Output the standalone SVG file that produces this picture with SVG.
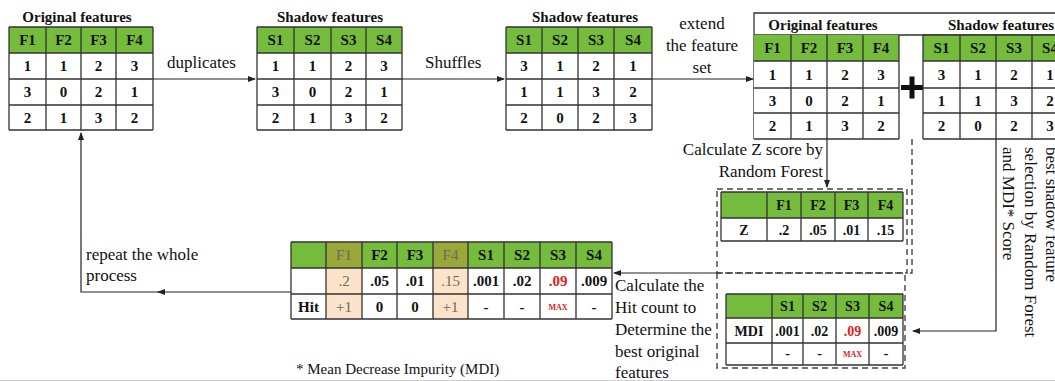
<svg xmlns="http://www.w3.org/2000/svg" width="1055" height="381" viewBox="0 0 1055 381">
<style>
.bg{fill:#ffffff}
.gr{fill:#76bc3c}
.ol{fill:#9aa83a}
.pe{fill:#fce3ca}
.wh{fill:#ffffff}
.grid{fill:none;stroke:#333;stroke-width:1.3}
.c{font-family:"Liberation Serif","Times New Roman",serif;font-weight:bold;font-size:15px;text-anchor:middle;fill:#111}
.cs{font-family:"Liberation Serif","Times New Roman",serif;font-weight:bold;font-size:14px;text-anchor:middle;fill:#111}
.dim{font-family:"Liberation Serif","Times New Roman",serif;font-size:15px;text-anchor:middle;fill:#6a6a5a}
.red{fill:#e02020}
.max{font-family:"Liberation Serif","Times New Roman",serif;font-weight:bold;font-size:8px;text-anchor:middle;fill:#e02020}
.ttl{font-family:"Liberation Serif","Times New Roman",serif;font-weight:bold;font-size:15px;text-anchor:middle;fill:#111}
.lbl{font-family:"Liberation Serif","Times New Roman",serif;font-size:17px;fill:#111}
.foot{font-family:"Liberation Serif","Times New Roman",serif;font-size:15px;fill:#111}
.conn{fill:none;stroke:#222;stroke-width:1.2}
.dash{fill:none;stroke:#444;stroke-width:1.4;stroke-dasharray:6,4}
</style>
<defs>
<marker id="ah" markerUnits="userSpaceOnUse" markerWidth="8" markerHeight="6" refX="7" refY="3" orient="auto">
<path d="M0,0 L8,3 L0,6 z" fill="#222"/>
</marker>
</defs>
<rect class="bg" x="0" y="0" width="1055" height="381"/>

<g id="original-features">
<text class="ttl" x="77" y="22">Original features</text>
<rect class="gr" x="9" y="27" width="144" height="26"/>
<rect class="wh" x="9" y="53" width="144" height="77"/>
<path class="grid" d="M9,27H153M9,53H153M9,79H153M9,105H153M9,130H153M9,27V130M46,27V130M81,27V130M116,27V130M153,27V130"/>
<text class="c" x="27.5" y="45">F1</text><text class="c" x="63.5" y="45">F2</text><text class="c" x="98.5" y="45">F3</text><text class="c" x="134.5" y="45">F4</text>
<text class="c" x="27.5" y="71">1</text><text class="c" x="63.5" y="71">1</text><text class="c" x="98.5" y="71">2</text><text class="c" x="134.5" y="71">3</text>
<text class="c" x="27.5" y="97">3</text><text class="c" x="63.5" y="97">0</text><text class="c" x="98.5" y="97">2</text><text class="c" x="134.5" y="97">1</text>
<text class="c" x="27.5" y="122.5">2</text><text class="c" x="63.5" y="122.5">1</text><text class="c" x="98.5" y="122.5">3</text><text class="c" x="134.5" y="122.5">2</text>
</g>

<g id="shadow-features">
<text class="ttl" x="330" y="22">Shadow features</text>
<rect class="gr" x="257" y="27" width="145" height="26"/>
<rect class="wh" x="257" y="53" width="145" height="77"/>
<path class="grid" d="M257,27H402M257,53H402M257,79H402M257,105H402M257,130H402M257,27V130M294,27V130M331,27V130M366,27V130M402,27V130"/>
<text class="c" x="275.5" y="45">S1</text><text class="c" x="312.5" y="45">S2</text><text class="c" x="348.5" y="45">S3</text><text class="c" x="384" y="45">S4</text>
<text class="c" x="275.5" y="71">1</text><text class="c" x="312.5" y="71">1</text><text class="c" x="348.5" y="71">2</text><text class="c" x="384" y="71">3</text>
<text class="c" x="275.5" y="97">3</text><text class="c" x="312.5" y="97">0</text><text class="c" x="348.5" y="97">2</text><text class="c" x="384" y="97">1</text>
<text class="c" x="275.5" y="122.5">2</text><text class="c" x="312.5" y="122.5">1</text><text class="c" x="348.5" y="122.5">3</text><text class="c" x="384" y="122.5">2</text>
</g>

<g id="shuffled-shadow">
<text class="ttl" x="585" y="22">Shadow features</text>
<rect class="gr" x="506" y="27" width="146" height="26"/>
<rect class="wh" x="506" y="53" width="146" height="77"/>
<path class="grid" d="M506,27H652M506,53H652M506,79H652M506,105H652M506,130H652M506,27V130M542,27V130M578,27V130M614,27V130M652,27V130"/>
<text class="c" x="524" y="45">S1</text><text class="c" x="560" y="45">S2</text><text class="c" x="596" y="45">S3</text><text class="c" x="633" y="45">S4</text>
<text class="c" x="524" y="71">3</text><text class="c" x="560" y="71">1</text><text class="c" x="596" y="71">2</text><text class="c" x="633" y="71">1</text>
<text class="c" x="524" y="97">1</text><text class="c" x="560" y="97">1</text><text class="c" x="596" y="97">3</text><text class="c" x="633" y="97">2</text>
<text class="c" x="524" y="122.5">2</text><text class="c" x="560" y="122.5">0</text><text class="c" x="596" y="122.5">2</text><text class="c" x="633" y="122.5">3</text>
</g>

<g id="extended-set">
<path class="grid" d="M754,139V13H1062M754,35H1062"/>
<text class="ttl" x="823" y="30">Original features</text>
<text class="ttl" x="948" y="30" style="text-anchor:start">Shadow features</text>
<rect class="gr" x="754" y="35" width="145" height="26"/>
<rect class="wh" x="754" y="61" width="145" height="78"/>
<path class="grid" d="M754,61H899M754,88H899M754,113H899M754,139H899M791,35V139M827,35V139M863,35V139M899,35V139"/>
<text class="c" x="772.5" y="53">F1</text><text class="c" x="809" y="53">F2</text><text class="c" x="845" y="53">F3</text><text class="c" x="881" y="53">F4</text>
<text class="c" x="772.5" y="79.5">1</text><text class="c" x="809" y="79.5">1</text><text class="c" x="845" y="79.5">2</text><text class="c" x="881" y="79.5">3</text>
<text class="c" x="772.5" y="105.5">3</text><text class="c" x="809" y="105.5">0</text><text class="c" x="845" y="105.5">2</text><text class="c" x="881" y="105.5">1</text>
<text class="c" x="772.5" y="131">2</text><text class="c" x="809" y="131">1</text><text class="c" x="845" y="131">3</text><text class="c" x="881" y="131">2</text>
<rect x="901" y="85" width="22" height="5" fill="#111"/>
<rect x="909.5" y="76.5" width="5" height="22" fill="#111"/>
<rect class="gr" x="923" y="35" width="145" height="26"/>
<rect class="wh" x="923" y="61" width="145" height="78"/>
<path class="grid" d="M923,35H1068M923,61H1068M923,88H1068M923,113H1068M923,139H1068M923,35V139M960,35V139M996,35V139M1032,35V139"/>
<text class="c" x="941.5" y="53">S1</text><text class="c" x="978" y="53">S2</text><text class="c" x="1014" y="53">S3</text><text class="c" x="1050" y="53">S4</text>
<text class="c" x="941.5" y="79.5">3</text><text class="c" x="978" y="79.5">1</text><text class="c" x="1014" y="79.5">2</text><text class="c" x="1050" y="79.5">1</text>
<text class="c" x="941.5" y="105.5">1</text><text class="c" x="978" y="105.5">1</text><text class="c" x="1014" y="105.5">3</text><text class="c" x="1050" y="105.5">2</text>
<text class="c" x="941.5" y="131">2</text><text class="c" x="978" y="131">0</text><text class="c" x="1014" y="131">2</text><text class="c" x="1050" y="131">3</text>
</g>

<g id="z-score">
<rect class="dash" x="717" y="189" width="190" height="84"/>
<rect class="gr" x="721" y="192" width="182" height="26"/>
<rect class="wh" x="721" y="218" width="182" height="23"/>
<path class="grid" d="M721,192H903M721,218H903M721,241H903M721,192V241M767,192V241M801,192V241M835,192V241M868,192V241M903,192V241"/>
<text class="cs" x="784" y="210">F1</text><text class="cs" x="818" y="210">F2</text><text class="cs" x="851.5" y="210">F3</text><text class="cs" x="885.5" y="210">F4</text>
<text class="cs" x="744" y="234.5">Z</text><text class="cs" x="784" y="234.5">.2</text><text class="cs" x="818" y="234.5">.05</text><text class="cs" x="851.5" y="234.5">.01</text><text class="cs" x="885.5" y="234.5">.15</text>
</g>

<g id="mdi-score">
<rect class="dash" x="717" y="273" width="188" height="95"/>
<rect class="gr" x="726" y="294" width="177" height="24"/>
<rect class="wh" x="726" y="318" width="177" height="47"/>
<path class="grid" d="M726,294H903M726,318H903M726,343H903M726,365H903M726,294V365M772,294V365M803,294V365M836,294V365M869,294V365M903,294V365"/>
<text class="cs" x="787.5" y="311">S1</text><text class="cs" x="819.5" y="311">S2</text><text class="cs" x="852.5" y="311">S3</text><text class="cs" x="886" y="311">S4</text>
<text class="cs" x="749" y="335.5">MDI</text><text class="cs" x="787.5" y="335.5">.001</text><text class="cs" x="819.5" y="335.5">.02</text><text class="cs red" x="852.5" y="335.5">.09</text><text class="cs" x="886" y="335.5">.009</text>
<text class="cs" x="787.5" y="358">-</text><text class="cs" x="819.5" y="358">-</text><text class="max" x="852.5" y="357">MAX</text><text class="cs" x="886" y="358">-</text>
</g>

<g id="hit-count">
<rect class="gr" x="291" y="242" width="321" height="26"/>
<rect class="ol" x="326" y="242" width="36" height="26"/>
<rect class="ol" x="433" y="242" width="35" height="26"/>
<rect class="wh" x="291" y="268" width="321" height="51"/>
<rect class="pe" x="326" y="268" width="36" height="51"/>
<rect class="pe" x="433" y="268" width="35" height="51"/>
<path class="grid" d="M291,242H612M291,268H612M291,294H612M291,319H612M291,242V319M326,242V319M362,242V319M397,242V319M433,242V319M468,242V319M504,242V319M540,242V319M576,242V319M612,242V319"/>
<text class="dim" x="344" y="260">F1</text><text class="c" x="379.5" y="260">F2</text><text class="c" x="415" y="260">F3</text>
<text class="dim" x="450.5" y="260">F4</text><text class="c" x="486" y="260">S1</text><text class="c" x="522" y="260">S2</text><text class="c" x="558" y="260">S3</text><text class="c" x="594" y="260">S4</text>
<text class="dim" x="344" y="286">.2</text><text class="c" x="379.5" y="286">.05</text><text class="c" x="415" y="286">.01</text><text class="dim" x="450.5" y="286">.15</text><text class="c" x="486" y="286">.001</text><text class="c" x="522" y="286">.02</text><text class="c red" x="558" y="286">.09</text><text class="c" x="594" y="286">.009</text>
<text class="c" x="308.5" y="311.5">Hit</text><text class="dim" x="344" y="311.5">+1</text><text class="c" x="379.5" y="311.5">0</text><text class="c" x="415" y="311.5">0</text><text class="dim" x="450.5" y="311.5">+1</text><text class="c" x="486" y="311.5">-</text><text class="c" x="522" y="311.5">-</text><text class="max" x="558" y="310">MAX</text><text class="c" x="594" y="311.5">-</text>
</g>

<g id="connectors">
<path class="conn" d="M153,79H255" marker-end="url(#ah)"/>
<path class="conn" d="M402,79H504" marker-end="url(#ah)"/>
<path class="conn" d="M652,79H753" marker-end="url(#ah)"/>
<path class="conn" d="M827,139V187" marker-end="url(#ah)"/>
<path class="conn" d="M996,139V331H913" marker-end="url(#ah)"/>
<path class="conn" d="M717,273H614" marker-end="url(#ah)"/>
<path class="conn" d="M291,292H158" marker-end="url(#ah)"/>
<path class="conn" d="M160,292H81V133" marker-end="url(#ah)"/>
<path class="dash" d="M912,139V273H907"/>
</g>

<g id="labels">
<text class="lbl" x="167" y="68">duplicates</text>
<text class="lbl" x="425" y="68">Shuffles</text>
<text class="lbl" x="702" y="29" text-anchor="middle">extend</text>
<text class="lbl" x="702" y="51" text-anchor="middle">the feature</text>
<text class="lbl" x="702" y="73" text-anchor="middle">set</text>
<text class="lbl" x="823" y="155" text-anchor="end">Calculate Z score by</text>
<text class="lbl" x="823" y="177" text-anchor="end">Random Forest</text>
<text class="lbl" x="615" y="291">Calculate the</text>
<text class="lbl" x="615" y="313">Hit count to</text>
<text class="lbl" x="615" y="335">Determine the</text>
<text class="lbl" x="615" y="357">best original</text>
<text class="lbl" x="615" y="378">features</text>
<text class="lbl" x="86" y="260">repeat the whole</text>
<text class="lbl" x="86" y="281">process</text>
<text class="lbl" transform="translate(1046,147) rotate(90)">best shadow feature</text>
<text class="lbl" transform="translate(1025,147) rotate(90)">selection by Random Forest</text>
<text class="lbl" transform="translate(1003,147) rotate(90)">and MDI* Score</text>
<text class="foot" x="296" y="374">* Mean Decrease Impurity (MDI)</text>
</g>
<line x1="0" y1="380.5" x2="1055" y2="380.5" stroke="#cfcfcf" stroke-width="1"/>
</svg>
